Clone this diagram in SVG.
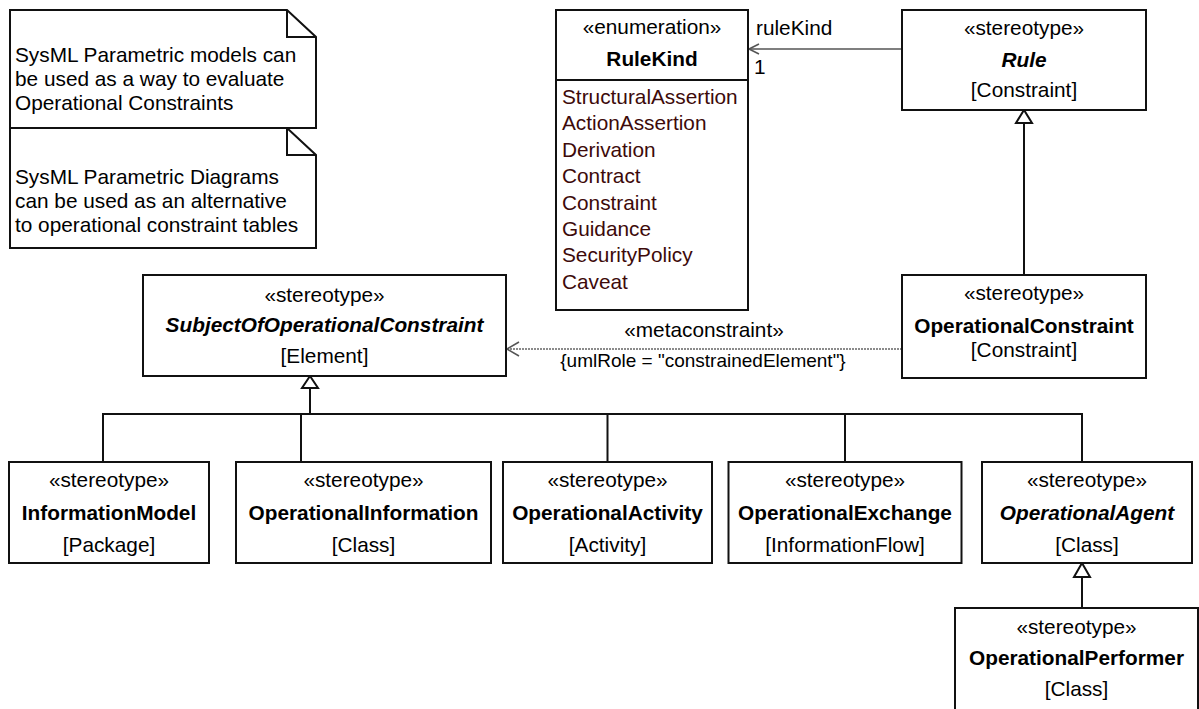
<svg xmlns="http://www.w3.org/2000/svg" width="1199" height="709" viewBox="0 0 1199 709">
<style>
text{font-family:"Liberation Sans",Arial,sans-serif;font-size:20.8px;fill:#000}
.c{text-anchor:middle}
.b{font-weight:bold}
.i{font-style:italic}
.lit{fill:#3d0a0a}
.box{fill:#fff;stroke:#111;stroke-width:2}
.ln{fill:none;stroke:#111;stroke-width:2}
.tri{fill:#fff;stroke:#111;stroke-width:2;stroke-linejoin:miter}
.assoc{fill:none;stroke:#555;stroke-width:1.6}
.dep{fill:none;stroke:#666;stroke-width:1.6;stroke-dasharray:2 1}
.small{font-size:19px}
</style>
<rect width="1199" height="709" fill="#fff"/>

<g id="note1">
<path class="box" d="M10,10 H287 L316,37 V128 H10 Z"/>
<path class="ln" d="M287,10 V37 H316"/>
<text x="15" y="62">SysML Parametric models can</text>
<text x="15" y="86">be used as a way to evaluate</text>
<text x="15" y="110">Operational Constraints</text>
</g>
<g id="note2">
<path class="box" d="M10,128 H287 L316,155 V248 H10 Z"/>
<path class="ln" d="M287,128 V155 H316"/>
<text x="15" y="184">SysML Parametric Diagrams</text>
<text x="15" y="208">can be used as an alternative</text>
<text x="15" y="232">to operational constraint tables</text>
</g>

<g id="connectors">
<line class="assoc" x1="902" y1="49" x2="749" y2="49"/>
<polyline class="assoc" points="759,44 749,49 759,54"/>
<text x="756" y="35">ruleKind</text>
<text x="754" y="74">1</text>

<line class="ln" x1="1024" y1="275" x2="1024" y2="123"/>
<polygon class="tri" points="1024,110 1016,123 1032,123"/>

<line class="dep" x1="902" y1="349" x2="507" y2="349"/>
<polyline class="assoc" points="519,342 507,349 519,356"/>
<text class="c" x="704" y="337">«metaconstraint»</text>
<text class="c small" x="703" y="367">{umlRole = "constrainedElement"}</text>

<polygon class="tri" points="310,376 302,388 318,388"/>
<line class="ln" x1="310" y1="388" x2="310" y2="414"/>
<polyline class="ln" points="103,462 103,414 1082,414 1082,462"/>
<line class="ln" x1="301" y1="414" x2="301" y2="462"/>
<line class="ln" x1="607.5" y1="414" x2="607.5" y2="462"/>
<line class="ln" x1="845" y1="414" x2="845" y2="462"/>

<polygon class="tri" points="1082,563 1074,577 1090,577"/>
<line class="ln" x1="1082" y1="577" x2="1082" y2="608"/>
</g>

<g id="RuleKind">
<rect class="box" x="556" y="10" width="192" height="300"/>
<line class="ln" x1="556" y1="80" x2="748" y2="80"/>
<text class="c" x="652" y="34">«enumeration»</text>
<text class="c b" x="652" y="66">RuleKind</text>
<text class="lit" x="562" y="104">StructuralAssertion</text>
<text class="lit" x="562" y="130.4">ActionAssertion</text>
<text class="lit" x="562" y="156.8">Derivation</text>
<text class="lit" x="562" y="183.2">Contract</text>
<text class="lit" x="562" y="209.6">Constraint</text>
<text class="lit" x="562" y="236">Guidance</text>
<text class="lit" x="562" y="262.4">SecurityPolicy</text>
<text class="lit" x="562" y="288.8">Caveat</text>
</g>

<g id="Rule">
<rect class="box" x="902" y="10" width="244" height="100"/>
<text class="c" x="1024" y="35">«stereotype»</text>
<text class="c b i" x="1024" y="67">Rule</text>
<text class="c" x="1024" y="97">[Constraint]</text>
</g>

<g id="OperationalConstraint">
<rect class="box" x="902" y="275" width="244" height="103"/>
<text class="c" x="1024" y="300">«stereotype»</text>
<text class="c b" x="1024" y="333">OperationalConstraint</text>
<text class="c" x="1024" y="357">[Constraint]</text>
</g>

<g id="SubjectOfOperationalConstraint">
<rect class="box" x="143" y="275" width="363" height="101"/>
<text class="c" x="324.5" y="302">«stereotype»</text>
<text class="c b i" x="324.5" y="332">SubjectOfOperationalConstraint</text>
<text class="c" x="324.5" y="363">[Element]</text>
</g>

<g id="InformationModel">
<rect class="box" x="9" y="462" width="200" height="101"/>
<text class="c" x="109" y="487">«stereotype»</text>
<text class="c b" x="109" y="520">InformationModel</text>
<text class="c" x="109" y="552">[Package]</text>
</g>

<g id="OperationalInformation">
<rect class="box" x="236" y="462" width="255" height="101"/>
<text class="c" x="363.5" y="487">«stereotype»</text>
<text class="c b" x="363.5" y="520">OperationalInformation</text>
<text class="c" x="363.5" y="552">[Class]</text>
</g>

<g id="OperationalActivity">
<rect class="box" x="503" y="462" width="209" height="101"/>
<text class="c" x="607.5" y="487">«stereotype»</text>
<text class="c b" x="607.5" y="520">OperationalActivity</text>
<text class="c" x="607.5" y="552">[Activity]</text>
</g>

<g id="OperationalExchange">
<rect class="box" x="728.5" y="462" width="233" height="101"/>
<text class="c" x="845" y="487">«stereotype»</text>
<text class="c b" x="845" y="520">OperationalExchange</text>
<text class="c" x="845" y="552">[InformationFlow]</text>
</g>

<g id="OperationalAgent">
<rect class="box" x="982" y="462" width="210" height="101"/>
<text class="c" x="1087" y="487">«stereotype»</text>
<text class="c b i" x="1087" y="520">OperationalAgent</text>
<text class="c" x="1087" y="552">[Class]</text>
</g>

<g id="OperationalPerformer">
<rect class="box" x="955" y="608" width="243" height="110"/>
<text class="c" x="1076.5" y="634">«stereotype»</text>
<text class="c b" x="1076.5" y="665">OperationalPerformer</text>
<text class="c" x="1076.5" y="696">[Class]</text>
</g>
</svg>
